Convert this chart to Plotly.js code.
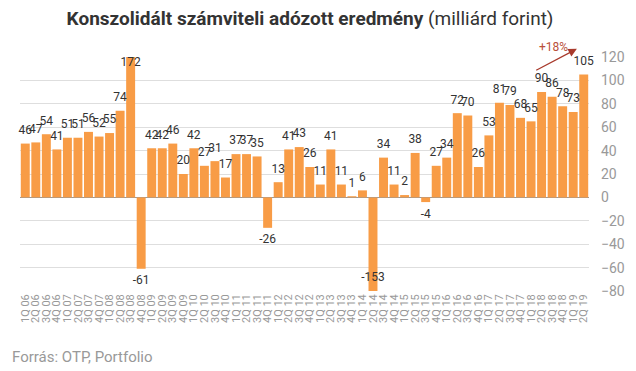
<!DOCTYPE html>
<html>
<head>
<meta charset="utf-8">
<script src="https://cdn.plot.ly/plotly-3.0.1.min.js"></script>
<style>html,body{margin:0;padding:0;background:#fff;}#chart{width:636px;height:371px;}</style>
</head>
<body>
<div id="chart"></div>
<script>
const quarters = [];
const years = ["06","07","08","09","10","11","12","13","14","15","16","17","18","19"];
years.forEach(function(y){ for (let q = 1; q <= 4; q++) { quarters.push(q + "Q " + y); } });
const categories = quarters.slice(0, 54);

const values = [46, 47, 54, 41, 51, 51, 56, 52, 55, 74, 172, -61, 42, 42, 46, 20, 42, 27, 31, 17,
  37, 37, 35, -26, 13, 41, 43, 26, 11, 41, 11, 1, 6, -153, 34, 11, 2, 38, -4, 27,
  34, 72, 70, 26, 53, 81, 79, 68, 65, 90, 86, 78, 73, 105];

const yMin = -80, yMax = 120;
const yTicks = [-80, -60, -40, -20, 0, 20, 40, 60, 80, 100, 120];

const growthLabel = "+18%";
const arrowFrom = 49; // index of 2Q18 (90)
const arrowTo = 53;   // index of 2Q19 (105)

const labelY = values.map(v => Math.max(yMin, Math.min(yMax, v)));
const labelPos = values.map(v => v > yMax ? "bottom center" : (v < yMin ? "top center" : (v >= 0 ? "top center" : "bottom center")));
const labelPad = values.map(v => v > yMax ? 0 : 9);

const bars = {
  type: "bar", x: categories, y: values,
  marker: {color: "#F89C46"},
  hoverinfo: "none"
};
const labels = {
  type: "scatter", mode: "markers+text", x: categories, y: labelY,
  marker: {size: labelPad, color: "rgba(0,0,0,0)", opacity: 0, line: {width: 0, color: "rgba(0,0,0,0)"}},
  text: values.map(String), textposition: labelPos,
  textfont: {family: "Roboto, sans-serif", size: 12, color: "#333"},
  cliponaxis: false, hoverinfo: "none"
};

const layout = {
  width: 636, height: 371,
  margin: {l: 20, r: 47, t: 57, b: 80, autoexpand: false},
  paper_bgcolor: "#fff", plot_bgcolor: "#fff",
  showlegend: false,
  bargap: 0.15,
  font: {family: "Roboto, sans-serif"},
  title: {
    text: "<b>Konszolidált számviteli adózott eredmény</b> (milliárd forint)",
    font: {family: "Roboto, sans-serif", size: 19, color: "#333"},
    xref: "container", x: 0.4875, xanchor: "center",
    yref: "container", y: 0.951, yanchor: "middle"
  },
  xaxis: {
    type: "category", tickangle: -90, tickmode: "linear", dtick: 1, tick0: 0,
    range: [-0.5, categories.length - 0.5], automargin: false,
    tickfont: {family: "Roboto, sans-serif", size: 11, color: "#999"},
    showgrid: false, zeroline: false, showline: false, ticks: "",
    fixedrange: true
  },
  yaxis: {
    side: "right", range: [yMin, yMax], tickvals: yTicks, automargin: false,
    ticklabelstandoff: 11,
    tickfont: {family: "Roboto, sans-serif", size: 14, color: "#999"},
    gridcolor: "#dedede", gridwidth: 1,
    zeroline: true, zerolinecolor: "#999", zerolinewidth: 1,
    showline: false, ticks: "", fixedrange: true
  },
  annotations: [
    {
      x: arrowTo - 0.65, y: values[arrowTo] + 22, xref: "x", yref: "y",
      ax: arrowFrom - 0.65, ay: values[arrowFrom] + 18, axref: "x", ayref: "y",
      showarrow: true, arrowhead: 2, arrowsize: 1.3, arrowwidth: 1.3, arrowcolor: "#A83A2C",
      text: ""
    },
    {
      x: arrowFrom + 1.1, y: 1.043, xref: "x", yref: "paper", yanchor: "middle",
      text: growthLabel, showarrow: false,
      font: {family: "Roboto, sans-serif", size: 12, color: "#B9503A"}
    },
    {
      xref: "paper", yref: "paper", x: -0.0176, y: -0.282, xanchor: "left", yanchor: "middle",
      text: "Forrás: OTP, Portfolio", showarrow: false,
      font: {family: "Roboto, sans-serif", size: 15, color: "#999"}
    }
  ]
};

Plotly.newPlot("chart", [bars, labels], layout, {displayModeBar: false, staticPlot: true});
</script>
</body>
</html>
